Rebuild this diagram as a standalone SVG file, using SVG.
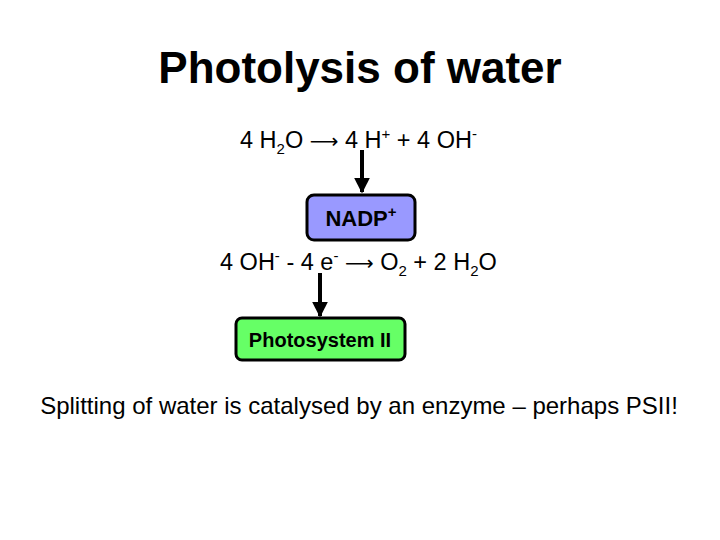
<svg xmlns="http://www.w3.org/2000/svg" width="720" height="540" viewBox="0 0 720 540">
<defs>
<style>
text{font-family:"Liberation Sans",Arial,sans-serif;fill:#000}
.eq{font-size:23.5px}
.ar{font-family:"DejaVu Sans",sans-serif;font-size:20px}
.box{stroke:#000;stroke-width:3}
.lbl{font-weight:bold}
.conn{stroke:#000;stroke-width:4;fill:none}
</style>
<marker id="ah" viewBox="0 0 10 10" refX="9" refY="5" markerWidth="4" markerHeight="4" markerUnits="strokeWidth" orient="auto">
<path d="M0,0 L10,5 L0,10 z" fill="#000"/>
</marker>
</defs>
<rect width="720" height="540" fill="#fff"/>
<text x="360" y="83" text-anchor="middle" font-size="44" font-weight="bold">Photolysis of water</text>
<text class="eq" x="240" y="148">4 H<tspan font-size="15" dy="6">2</tspan><tspan dy="-6">O </tspan><tspan class="ar">⟶</tspan> 4 H<tspan font-size="15" dy="-9">+</tspan><tspan dy="9"> + 4 OH</tspan><tspan font-size="15" dy="-9">-</tspan></text>
<g id="connectors">
<line class="conn" x1="362" y1="150" x2="362" y2="192" marker-end="url(#ah)"/>
<line class="conn" x1="320" y1="273" x2="320" y2="316" marker-end="url(#ah)"/>
</g>
<g id="nadp">
<rect class="box" x="307" y="195" width="108" height="45" rx="7" fill="#9999ff"/>
<text class="lbl" x="361" y="226" text-anchor="middle" font-size="22">NADP<tspan font-size="15" dy="-9">+</tspan></text>
</g>
<text class="eq" x="220" y="270">4 OH<tspan font-size="15" dy="-9">-</tspan><tspan dy="9"> - 4 e</tspan><tspan font-size="15" dy="-9">-</tspan><tspan dy="9"> </tspan><tspan class="ar">⟶</tspan> O<tspan font-size="15" dy="6">2</tspan><tspan dy="-6"> + 2 H</tspan><tspan font-size="15" dy="6">2</tspan><tspan dy="-6">O</tspan></text>
<g id="psii">
<rect class="box" x="236" y="318" width="169" height="42" rx="6" fill="#66ff66"/>
<text class="lbl" x="320" y="347" text-anchor="middle" font-size="20">Photosystem II</text>
</g>
<text x="359" y="414" text-anchor="middle" font-size="24">Splitting of water is catalysed by an enzyme – perhaps PSII!</text>
</svg>
